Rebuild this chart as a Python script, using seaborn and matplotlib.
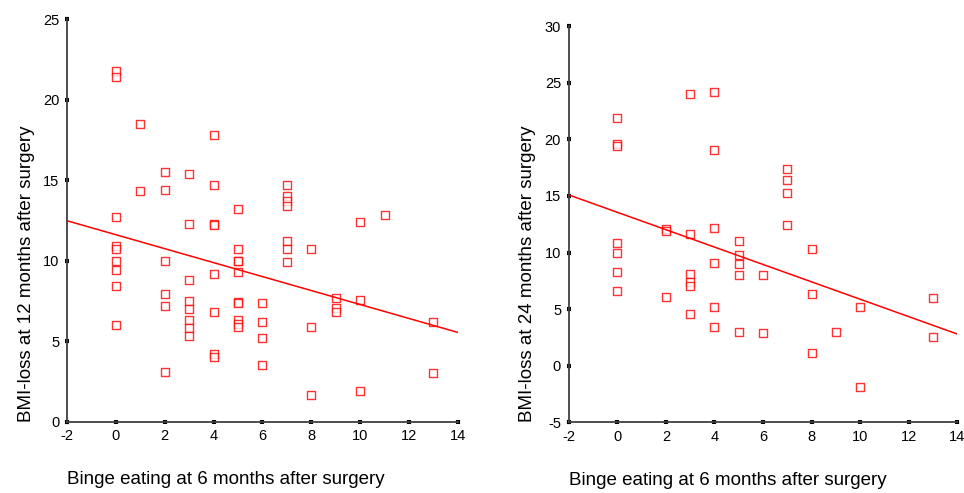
import numpy as np
import pandas as pd
import seaborn as sns
import matplotlib.pyplot as plt

# Binge eating score at 6 months (x) vs BMI-loss at 12 months (y)
binge_12 = [0, 0, 0, 0, 0, 0, 0, 0, 0,
            1, 1,
            2, 2, 2, 2, 2, 2,
            3, 3, 3, 3, 3, 3, 3, 3,
            4, 4, 4, 4, 4, 4, 4, 4,
            5, 5, 5, 5, 5, 5, 5, 5, 5, 5,
            6, 6, 6, 6,
            7, 7, 7, 7, 7, 7, 7,
            8, 8, 8,
            9, 9, 9,
            10, 10, 10,
            11,
            13, 13]
bmi_12 = [21.8, 21.4, 12.7, 10.9, 10.7, 10.0, 9.4, 8.4, 6.0,
          18.5, 14.3,
          15.5, 14.4, 10.0, 7.95, 7.2, 3.1,
          15.4, 12.3, 8.8, 7.5, 7.0, 6.3, 5.8, 5.3,
          17.8, 14.7, 12.3, 12.2, 9.2, 6.8, 4.2, 4.0,
          13.2, 10.7, 10.0, 9.3, 7.45, 7.4, 6.3, 6.05, 5.9, 10.0,
          7.4, 6.2, 5.2, 3.55,
          14.7, 14.0, 13.7, 13.4, 11.2, 10.7, 9.9,
          10.7, 5.9, 1.65,
          7.7, 7.05, 6.8,
          12.4, 7.55, 1.9,
          12.85,
          6.2, 3.0]

# Binge eating score at 6 months (x) vs BMI-loss at 24 months (y)
binge_24 = [0, 0, 0, 0, 0, 0, 0,
            2, 2, 2,
            3, 3, 3, 3, 3, 3,
            4, 4, 4, 4, 4, 4,
            5, 5, 5, 5, 5,
            6, 6,
            7, 7, 7, 7,
            8, 8, 8,
            9,
            10, 10,
            13, 13]
bmi_24 = [21.9, 19.6, 19.45, 10.8, 9.95, 8.3, 6.6,
          12.05, 11.9, 6.1,
          24.0, 11.6, 8.1, 7.4, 7.0, 4.6,
          24.2, 19.1, 12.15, 9.1, 5.2, 3.4,
          11.0, 9.8, 9.0, 8.0, 3.0,
          8.0, 2.9,
          17.4, 16.4, 15.3, 12.4,
          10.3, 6.35, 1.1,
          3.0,
          5.2, -1.9,
          6.0, 2.5]

df12 = pd.DataFrame({"binge": binge_12, "bmi": bmi_12})
df24 = pd.DataFrame({"binge": binge_24, "bmi": bmi_24})

sns.set_style("white")
plt.rcParams["font.family"] = ["Liberation Sans", "DejaVu Sans"]
plt.rcParams["axes.unicode_minus"] = False

fig = plt.figure(figsize=(9.64, 4.93), dpi=100)
ax1 = fig.add_axes([0.0695, 0.1446, 0.4055, 0.8164])
ax2 = fig.add_axes([0.590, 0.1434, 0.403, 0.8036])

panels = [
    (ax1, df12, (0, 25), np.arange(0, 26, 5), "BMI-loss at 12 months after surgery"),
    (ax2, df24, (-5, 30), np.arange(-5, 31, 5), "BMI-loss at 24 months after surgery"),
]

for ax, d, ylim, yticks, ylab in panels:
    ax.set_xlim(-2, 14)
    ax.set_ylim(*ylim)
    sns.regplot(data=d, x="binge", y="bmi", ax=ax, ci=None, truncate=False,
                marker="s",
                scatter_kws={"s": 28, "facecolors": "white", "edgecolors": "#ff0000",
                             "linewidths": 1.0},
                line_kws={"color": "#ff0000", "linewidth": 1.1})
    ax.set_xlim(-2, 14)
    ax.set_ylim(*ylim)
    ax.set_xticks(np.arange(-2, 15, 2))
    ax.set_yticks(yticks)
    for s in ["top", "right"]:
        ax.spines[s].set_visible(False)
    for s in ["left", "bottom"]:
        ax.spines[s].set_color("#404040")
        ax.spines[s].set_linewidth(1.3)
    ax.tick_params(axis="both", bottom=True, left=True, direction="inout",
                   length=3, width=3, color="black", labelcolor="black",
                   labelsize=10.5, pad=4)
    ax.set_xlabel("Binge eating at 6 months after surgery", fontsize=13.5,
                  color="black", loc="left", labelpad=20)
    ax.set_ylabel(ylab, fontsize=13.5, color="black", loc="bottom", labelpad=6)

fig.savefig("out.png", dpi=100)
